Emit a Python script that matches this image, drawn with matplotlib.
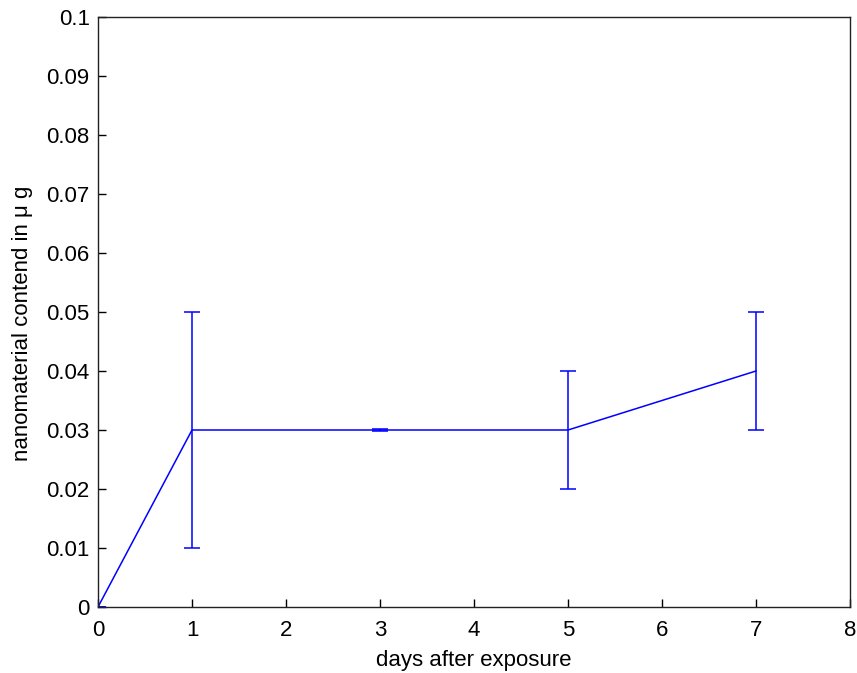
import matplotlib
matplotlib.use("Agg")
import matplotlib.pyplot as plt

days = [0, 1, 3, 5, 7]
content = [0.0, 0.03, 0.03, 0.03, 0.04]
spread = [0.0, 0.02, 0.0002, 0.01, 0.01]
x_ticks = [0, 1, 2, 3, 4, 5, 6, 7, 8]
y_ticks = [0, 0.01, 0.02, 0.03, 0.04, 0.05, 0.06, 0.07, 0.08, 0.09, 0.1]
y_tick_labels = ["0", "0.01", "0.02", "0.03", "0.04", "0.05", "0.06", "0.07", "0.08", "0.09", "0.1"]

plt.rcParams['font.family'] = ['Liberation Sans', 'DejaVu Sans']

fig = plt.figure(figsize=(8.57, 6.73), dpi=100)
ax = fig.add_axes([98 / 857, 1 - 607 / 673, 752 / 857, 590 / 673])

ax.errorbar(days, content, yerr=spread, color=(0, 0, 1), linewidth=1.1,
            elinewidth=1.1, capsize=6, capthick=1.1)

ax.set_xlim(0, 8)
ax.set_ylim(0, 0.1)
ax.set_xticks(x_ticks)
ax.set_xticklabels([str(t) for t in x_ticks])
ax.set_yticks(y_ticks)
ax.set_yticklabels(y_tick_labels)
ax.tick_params(axis='both', direction='in', length=6, width=1, labelsize=16,
               top=False, right=False)
ax.tick_params(axis='x', pad=9)
ax.tick_params(axis='y', pad=6)
for s in ax.spines.values():
    s.set_linewidth(1.0)
    s.set_color('#222222')

ax.set_xlabel("days after exposure", fontsize=16, labelpad=7)
ax.set_ylabel("nanomaterial contend in \u03bc g", fontsize=16)
ax.yaxis.set_label_coords(-0.086, 0.48)

fig.savefig("out.png", dpi=100)
